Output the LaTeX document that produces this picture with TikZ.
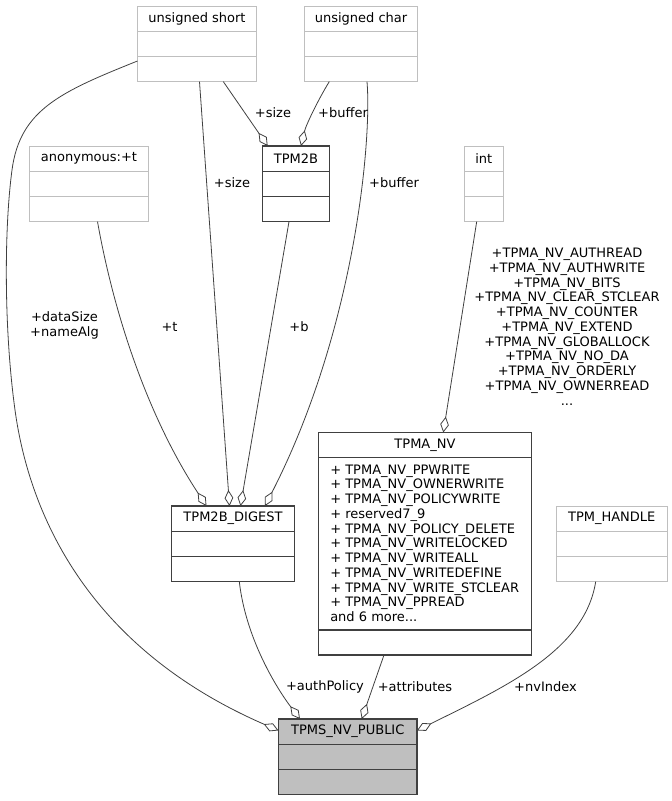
\documentclass[tikz,border=0pt]{standalone}
\usepackage{fontspec}
\setmainfont{DejaVu Sans}
\usetikzlibrary{arrows.meta,calc}
\definecolor{lgray}{RGB}{191,191,191}
\definecolor{dgray}{RGB}{64,64,64}
\definecolor{pubfill}{RGB}{191,191,191}
\newcommand\dfont{\fontsize{9.75pt}{11.05pt}\selectfont}
\newcommand\classbox[7]{%
  \node[#2, anchor=north west, minimum width=#5*0.75pt, minimum height=#6*0.75pt] (#1) at (#3,#4) {};
  \draw[#2, fill=none] ($(#1.north west)+(0,25.2)$) -- ($(#1.north east)+(0,25.2)$);
  \draw[#2, fill=none] ($(#1.north west)+(0,50.4)$) -- ($(#1.north east)+(0,50.4)$);
  \node[txt] (#1t) at ($(#1.north)+(0,12.6)$) {#7};
}
\begin{document}
\begin{tikzpicture}[x=0.75pt,y=-0.75pt,
  txt/.style={font=\dfont, inner sep=0pt, text=black},
  lbox/.style={draw=lgray, line width=0.75pt, fill=white, inner sep=0pt, outer sep=0pt},
  dbox/.style={draw=dgray, line width=1pt, fill=white, inner sep=0pt, outer sep=0pt},
  pbox/.style={dbox, fill=pubfill},
  edge/.style={draw=dgray, line width=0.6pt, -{Diamond[open,length=12pt,width=6.5pt]}},
  elabel/.style={font=\dfont, inner sep=0pt, align=center, text=black}]
\useasboundingbox (0,0) rectangle (672,801);

% classes
\classbox{us}{lbox}{137.5}{6}{119}{75.6}{unsigned short}
\classbox{uc}{lbox}{304.5}{6}{113}{75.6}{unsigned char}
\classbox{anon}{lbox}{29.5}{146}{119}{75.6}{anonymous:+t}
\classbox{tb}{dbox}{262.5}{146}{67}{75.6}{TPM2B}
\classbox{int}{lbox}{464.3}{146}{39}{75.6}{int}
\classbox{dig}{dbox}{171.5}{506}{123}{75.6}{TPM2B\_DIGEST}
\classbox{hdl}{lbox}{556.5}{506}{110.5}{75.6}{TPM\_HANDLE}
\classbox{pub}{pbox}{278.5}{719}{138.5}{75.6}{TPMS\_NV\_PUBLIC}

% TPMA_NV
\node[dbox, anchor=north west, minimum width=213*0.75pt, minimum height=222.5*0.75pt] (nv) at (318.5,432.5) {};
\draw[dbox, fill=none] ($(nv.north west)+(0,25.2)$) -- ($(nv.north east)+(0,25.2)$);
\draw[dbox, fill=none] ($(nv.south west)+(0,-25)$) -- ($(nv.south east)+(0,-25)$);
\node[txt] (nvt) at ($(nv.north)+(0,12.6)$) {TPMA\_NV};
\node[txt, anchor=north west, align=left] (nvl) at (330,464.5) {%
+ TPMA\_NV\_PPWRITE\\
+ TPMA\_NV\_OWNERWRITE\\
+ TPMA\_NV\_POLICYWRITE\\
+ reserved7\_9\\
+ TPMA\_NV\_POLICY\_DELETE\\
+ TPMA\_NV\_WRITELOCKED\\
+ TPMA\_NV\_WRITEALL\\
+ TPMA\_NV\_WRITEDEFINE\\
+ TPMA\_NV\_WRITE\_STCLEAR\\
+ TPMA\_NV\_PPREAD\\
and 6 more...};

% connectors
\draw[edge] ($(us.north west)+(0,55)$) .. controls (60,92) and (20,110) .. (12,170)
  .. controls (4,230) and (4,330) .. (15,410)
  .. controls (26,490) and (70,640) .. ($(pub.north west)+(0,11.5)$);
\draw[edge] ($(us.south west)+(62,0)$) -- ($(dig.north west)+(58,0)$);
\draw[edge] ($(us.south west)+(85.8,0)$) -- ($(tb.north west)+(5.2,0)$);
\draw[edge] ($(uc.south west)+(24.8,0)$) .. controls (318,100) and (306,125) .. ($(tb.north west)+(38.5,0)$);
\draw[edge] ($(uc.south west)+(62.5,0)$) .. controls (372,140) and (355,330) .. ($(dig.north west)+(93.5,0)$);
\draw[edge] ($(anon.south west)+(68,0)$) .. controls (115,320) and (150,420) .. ($(dig.north west)+(35,0)$);
\draw[edge] ($(tb.south west)+(26.5,0)$) -- ($(dig.north west)+(69,0)$);
\draw[edge] ($(int.south west)+(12.4,0)$) -- ($(nv.north west)+(124.8,0)$);
\draw[edge] ($(dig.south west)+(67.8,0)$) .. controls (246,640) and (278,690) .. ($(pub.north west)+(21.5,0)$);
\draw[edge] ($(nv.south west)+(65.5,0)$) -- ($(pub.north west)+(83.2,0)$);
\draw[edge] ($(hdl.south west)+(39.2,0)$) .. controls (585,650) and (507,686) .. ($(pub.north east)+(0,11.5)$);

% labels
\node[elabel] (l1) at (64.5,325.5) {+dataSize\\+nameAlg};
\node[elabel] (l2) at (232,182.3) {+size};
\node[elabel] (l3) at (273,112.7) {+size};
\node[elabel] (l4) at (343,112.7) {+buffer};
\node[elabel] (l5) at (394,182.3) {+buffer};
\node[elabel] (l6) at (169.5,326.7) {+t};
\node[elabel] (l7) at (299,326.7) {+b};
\node[elabel, anchor=north] (l8) at (567,248) {+TPMA\_NV\_AUTHREAD\\
+TPMA\_NV\_AUTHWRITE\\
+TPMA\_NV\_BITS\\
+TPMA\_NV\_CLEAR\_STCLEAR\\
+TPMA\_NV\_COUNTER\\
+TPMA\_NV\_EXTEND\\
+TPMA\_NV\_GLOBALLOCK\\
+TPMA\_NV\_NO\_DA\\
+TPMA\_NV\_ORDERLY\\
+TPMA\_NV\_OWNERREAD\\
...};
\node[elabel] (l9) at (325,686.7) {+authPolicy};
\node[elabel] (l10) at (415,686.7) {+attributes};
\node[elabel] (l11) at (545.5,686.7) {+nvIndex};
\end{tikzpicture}
\end{document}
